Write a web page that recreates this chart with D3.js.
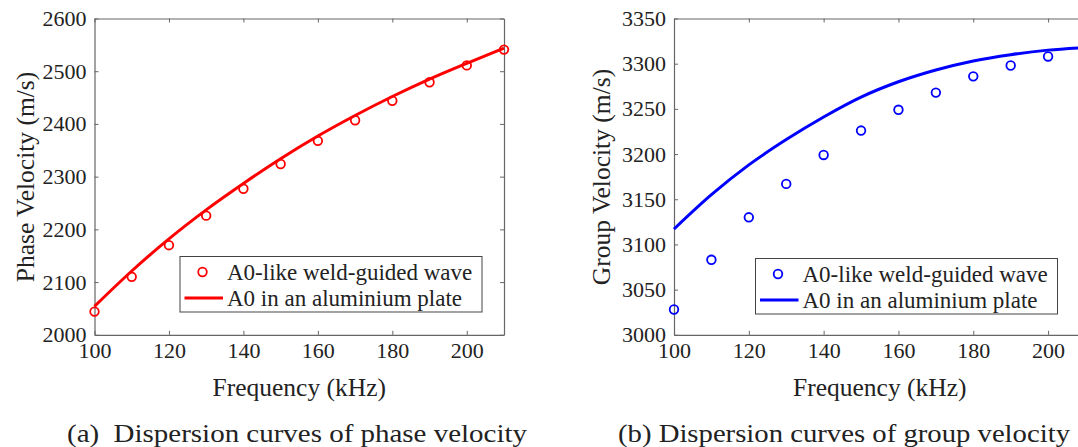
<!DOCTYPE html>
<html>
<head>
	<meta charset="UTF-8">
</head>
<body style="margin:0">
	<script src="https://cdn.jsdelivr.net/npm/d3@7"></script>
	<script>
		// frequencies (kHz)
		var freq = [100, 110, 120, 130, 140, 150, 160, 170, 180, 190, 200, 210];

		// (a) phase velocity, m/s
		var phaseWeld = [2044, 2110, 2170, 2226, 2277, 2324, 2368, 2407, 2444, 2479, 2511, 2541];
		var phasePlate = [2054, 2121, 2182, 2237, 2287, 2334, 2377, 2416, 2452, 2485, 2515, 2544];

		// (b) group velocity, m/s
		var groupWeld = [3028, 3083, 3130, 3167, 3199, 3226, 3249, 3268, 3286, 3298, 3308, 3316];
		var groupPlate = [3117, 3155, 3188, 3216, 3241, 3263, 3280, 3293, 3303, 3310, 3315, 3318];

		var xTicks = [100, 120, 140, 160, 180, 200];
		var phaseTicks = [2000, 2100, 2200, 2300, 2400, 2500, 2600];
		var groupTicks = [3000, 3050, 3100, 3150, 3200, 3250, 3300, 3350];

		var legendLabels = ["A0-like weld-guided wave", "A0 in an aluminium plate"];

		var serif = "'Liberation Serif'";

		var width = 1078,
			height = 447;

		var svg = d3.select("body").append("svg")
			.attr("width", width)
			.attr("height", height)
			.attr("font-family", serif)

		function drawPanel(opt) {
			var x = d3.scaleLinear().domain([100, 210]).range([opt.left, opt.right]),
				y = d3.scaleLinear().domain(opt.yDomain).range([334.8, 18.5]);

			// axes: bottom/left with labels, top/right mirrored ticks
			var ax = [
				{axis: d3.axisBottom(x).tickValues(xTicks).tickFormat(d3.format("d")), t: "translate(0," + y.range()[0] + ")"},
				{axis: d3.axisTop(x).tickValues(xTicks).tickFormat(""), t: "translate(0," + y.range()[1] + ")"},
				{axis: d3.axisLeft(y).tickValues(opt.yTicks).tickFormat(d3.format("d")), t: "translate(" + opt.left + ",0)"},
				{axis: d3.axisRight(y).tickValues(opt.yTicks).tickFormat(""), t: "translate(" + opt.right + ",0)"}
			];
			ax.forEach(function(a, i){
				var ag = svg.append("g")
					.attr("transform", a.t)
					.call(a.axis.tickSizeInner(-4).tickSizeOuter(0).tickPadding(i == 0 ? 12 : 8));
				ag.attr("font-family", serif).attr("font-size", 22);
				ag.select(".domain").attr("stroke", "#666").attr("stroke-width", 1.2);
				ag.selectAll(".tick line").attr("stroke", "#666");
				ag.selectAll(".tick text").attr("fill", "#222");
				if (i == 0) ag.selectAll(".tick text").attr("dy", "0.5em");
			});

			// plate curve
			var line = d3.line()
				.x(function(d, i){ return x(freq[i]); })
				.y(function(d){ return y(d); })
				.curve(d3.curveMonotoneX);

			svg.append("path")
				.datum(opt.plate)
				.attr("d", line)
				.attr("fill", "none")
				.attr("stroke", opt.color)
				.attr("stroke-width", 3)

			// weld-guided points
			svg.selectAll("circle.pt" + opt.id)
				.data(opt.weld)
				.enter()
				.append("circle")
				.attr("class", "pt" + opt.id)
				.attr("cx", function(d, i){ return x(freq[i]); })
				.attr("cy", function(d){ return y(d); })
				.attr("r", 4.3)
				.attr("fill", "none")
				.attr("stroke", opt.color)
				.attr("stroke-width", 1.8)

			// axis labels
			svg.append("text")
				.attr("x", (opt.left + opt.right) / 2)
				.attr("y", 396)
				.attr("text-anchor", "middle")
				.attr("font-size", 25.5)
				.attr("fill", "#222")
				.text("Frequency (kHz)")

			svg.append("text")
				.attr("transform", "translate(" + opt.ylabelX + "," + 177 + ") rotate(-90)")
				.attr("text-anchor", "middle")
				.attr("font-size", 25.5)
				.attr("fill", "#222")
				.text(opt.ylabel)

			// legend
			svg.append("rect")
				.attr("x", opt.legend[0])
				.attr("y", opt.legend[1])
				.attr("width", 302)
				.attr("height", 55.5)
				.attr("fill", "#fff")
				.attr("stroke", "#444")
				.attr("stroke-width", 1)
			svg.append("circle")
				.attr("cx", opt.legend[0] + 22.5)
				.attr("cy", opt.legend[1] + 15.5)
				.attr("r", 4.3)
				.attr("fill", "none")
				.attr("stroke", opt.color)
				.attr("stroke-width", 1.8)
			svg.append("line")
				.attr("x1", opt.legend[0] + 4.5)
				.attr("x2", opt.legend[0] + 43)
				.attr("y1", opt.legend[1] + 41.5)
				.attr("y2", opt.legend[1] + 41.5)
				.attr("stroke", opt.color)
				.attr("stroke-width", 3)
			legendLabels.forEach(function(d, i){
				svg.append("text")
					.attr("x", opt.legend[0] + 47)
					.attr("y", opt.legend[1] + 23 + i * 26)
					.attr("font-size", 23)
					.attr("fill", "#222")
					.text(d)
			});

			// caption
			svg.append("text")
				.attr("x", opt.capX)
				.attr("y", 442)
				.attr("text-anchor", "middle")
				.attr("font-size", 26)
				.attr("fill", "#222")
				.attr("textLength", opt.capW)
				.attr("lengthAdjust", "spacingAndGlyphs")
				.text(opt.caption)
		}

		drawPanel({
			id: "a",
			left: 94.5, right: 504,
			yDomain: [2000, 2600], yTicks: phaseTicks,
			weld: phaseWeld, plate: phasePlate,
			color: "#ff0000",
			ylabel: "Phase Velocity (m/s)", ylabelX: 34,
			legend: [180, 256.5],
			caption: "(a)\u00a0 Dispersion curves of phase velocity", capX: 297, capW: 460
		});

		drawPanel({
			id: "b",
			left: 674, right: 1085.5,
			yDomain: [3000, 3350], yTicks: groupTicks,
			weld: groupWeld, plate: groupPlate,
			color: "#0000ff",
			ylabel: "Group Velocity (m/s)", ylabelX: 610,
			legend: [755.5, 258.5],
			caption: "(b) Dispersion curves of group velocity", capX: 844, capW: 452
		});
	</script>
</body>
</html>
